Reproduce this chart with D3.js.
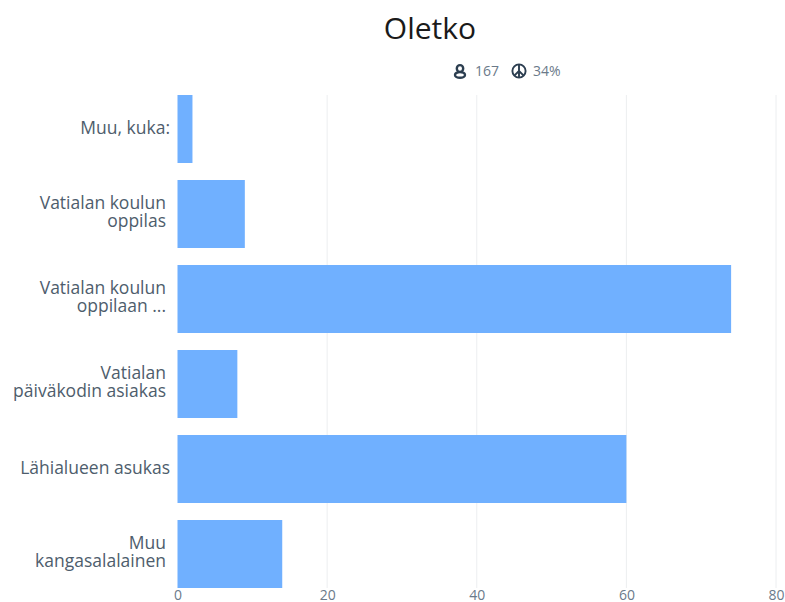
<!DOCTYPE html>
<html><head><meta charset="utf-8">
<script src="https://cdnjs.cloudflare.com/ajax/libs/d3/7.8.5/d3.min.js"></script>
<style>html,body{margin:0;padding:0;background:#fff}svg{display:block}text{font-family:"Open Sans",sans-serif}</style>
</head><body><svg id="c" width="785" height="602"></svg>
<script>
const categories=[["Muu, kuka:"],["Vatialan koulun","oppilas"],["Vatialan koulun","oppilaan ..."],["Vatialan","päiväkodin asiakas"],["Lähialueen asukas"],["Muu","kangasalalainen"]];
const values=[2,9,74,8,60,14];
const xTicks=[0,20,40,60,80];
const titleText="Oletko";
const respondents="167";
const rate="34%";

const svg=d3.select("#c");
const x=d3.scaleLinear().domain([0,80]).range([177.5,776]);
const y=d3.scaleBand().domain(d3.range(categories.length)).range([86.5,596.5]).paddingInner(0.2).paddingOuter(0.1);

svg.append("text").attr("x",430).attr("y",39).attr("text-anchor","middle").attr("font-size",30).attr("fill","#1a1a1a").text(titleText);

// meta row
const ink="#2c3e50",muted="#6b7a8a";
const p=svg.append("g").attr("transform","translate(460,71.5)").attr("fill","none").attr("stroke",ink).attr("stroke-width",2.4);
p.append("ellipse").attr("cx",0).attr("cy",-3).attr("rx",3.2).attr("ry",3.4);
p.append("ellipse").attr("cx",0).attr("cy",3.4).attr("rx",5).attr("ry",2.8);
svg.append("text").attr("x",475).attr("y",76).attr("font-size",14).attr("fill",muted).text(respondents);
const q=svg.append("g").attr("transform","translate(519,71)").attr("fill","none").attr("stroke",ink).attr("stroke-width",1.9);
q.append("circle").attr("r",6.6);
q.append("path").attr("d","M0,-6.6V6.6M0,0L-4.7,4.7M0,0L4.7,4.7");
svg.append("text").attr("x",533).attr("y",76).attr("font-size",14).attr("fill",muted).text(rate);

// grid
svg.append("g").selectAll("line").data(xTicks.filter(d=>d>0)).join("line")
 .attr("x1",d=>x(d)).attr("x2",d=>x(d)).attr("y1",95).attr("y2",588).attr("stroke","#eceef0").attr("stroke-width",1);

// bars
svg.append("g").selectAll("rect").data(values).join("rect")
 .attr("x",x(0)).attr("y",(d,i)=>y(i)).attr("width",d=>x(d)-x(0)).attr("height",y.bandwidth()).attr("fill","#70b0ff");

// x axis
const ax=svg.append("g").attr("transform","translate(0,588)").call(d3.axisBottom(x).tickValues(xTicks).tickSize(0).tickPadding(2));
ax.select(".domain").remove();
ax.selectAll("text").attr("font-size",14).attr("fill",muted).style("font-family",'"Open Sans",sans-serif');

// y labels
const lh=18;
const labels=svg.append("g").selectAll("text").data(categories).join("text")
  .attr("text-anchor","end").attr("font-size",17.5).attr("fill","#4e5d6c");
labels.each(function(lines,i){
  const cy=y(i)+y.bandwidth()/2-(lines.length>1?2:1);
  const right=lines.length>1?166:170;
  d3.select(this).selectAll("tspan").data(lines).join("tspan")
    .attr("x",right).attr("y",(l,j)=>cy+(j-(lines.length-1)/2)*lh+6).text(l=>l);
});
</script></body></html>
